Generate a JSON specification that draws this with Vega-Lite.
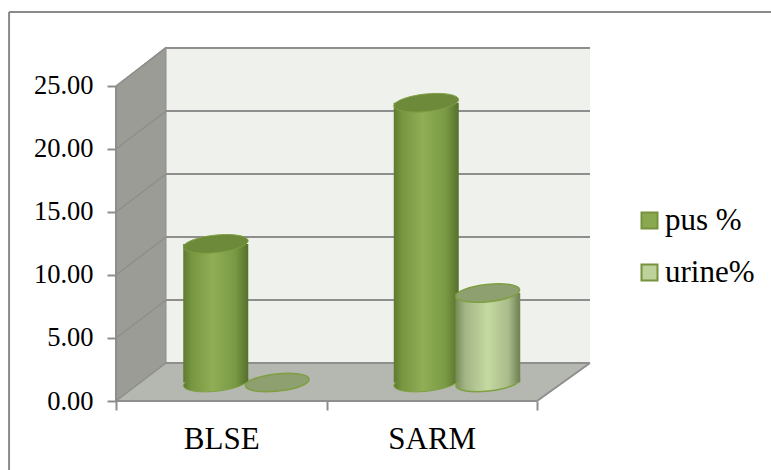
{
"$schema":"https://vega.github.io/schema/vega-lite/v6.json",
"width":474,"height":354,
"padding":{"left":116,"top":47,"right":181,"bottom":69},
"autosize":{"type":"none"},
"background":"white",
"config":{"view":{"stroke":null},"font":"Liberation Serif"},
"data":{"values":[
{"cat":"BLSE","series":"pus %","value":11.0},
{"cat":"BLSE","series":"urine%","value":0},
{"cat":"SARM","series":"pus %","value":22.2},
{"cat":"SARM","series":"urine%","value":7.1}
]},
"resolve":{"scale":{"x":"independent"},"axis":{"x":"independent","y":"independent"},"legend":{"color":"independent"}},
"layer":[
{"data":{"values":[{"side":"frame"}]},"mark":{"type":"rule","stroke":"#8a8a8a","strokeWidth":2},
 "encoding":{"x":{"datum":-0.508,"type":"quantitative","scale":{"domain":[0,2.2518]},"axis":null},"x2":{"datum":3.12},"y":{"datum":30.87,"type":"quantitative","scale":{"domain":[0,28.095]},"axis":null}}},
{"data":{"values":[{"side":"frame"}]},"mark":{"type":"rule","stroke":"#8a8a8a","strokeWidth":2},
 "encoding":{"x":{"datum":-0.508,"type":"quantitative","scale":{"domain":[0,2.2518]},"axis":null},"y":{"datum":30.87,"type":"quantitative","scale":{"domain":[0,28.095]},"axis":null},"y2":{"datum":-5.5}}},
{"data":{"values":[{"part":"back"}]},"mark":{"type":"rect","fill":"#eff2ec"},
 "encoding":{"x":{"datum":0.2375,"type":"quantitative","scale":{"domain":[0,2.2518]},"axis":null},"x2":{"datum":2.2518},"y":{"datum":3.016,"type":"quantitative","scale":{"domain":[0,28.095]},"axis":null},"y2":{"datum":28.095}}},
{"data":{"values":[{"x":0,"top":25,"bottom":0},{"x":0.2375,"top":28.095,"bottom":3.016}]},"mark":{"type":"area","fill":"#9a9c95","stroke":"#8e8e8e","strokeWidth":1},
 "encoding":{"x":{"field":"x","type":"quantitative","scale":{"domain":[0,2.2518]},"axis":null},"y":{"field":"top","type":"quantitative","scale":{"domain":[0,28.095]},"axis":null},"y2":{"field":"bottom"}}},
{"data":{"values":[{"x":0,"top":0,"bottom":0},{"x":0.2375,"top":3.016,"bottom":0},{"x":2,"top":3.016,"bottom":0},{"x":2.2518,"top":3.016,"bottom":3.016}]},"mark":{"type":"area","fill":"#b5b8b1"},
 "encoding":{"x":{"field":"x","type":"quantitative","scale":{"domain":[0,2.2518]},"axis":null},"y":{"field":"top","type":"quantitative","scale":{"domain":[0,28.095]},"axis":null},"y2":{"field":"bottom"}}},
{"data":{"values":[{"tick":0},{"tick":5},{"tick":10},{"tick":15},{"tick":20},{"tick":25}]},"mark":{"type":"rule","stroke":"#8e8e8e","strokeWidth":2,"yOffset":-38},
 "encoding":{"x":{"datum":0.2375,"type":"quantitative","scale":{"domain":[0,2.2518]},"axis":null},"x2":{"datum":2.2518},"y":{"field":"tick","type":"quantitative","scale":{"domain":[0,28.095]},"axis":null}}},
{"data":{"values":[{"tick":0},{"tick":5},{"tick":10},{"tick":15},{"tick":20},{"tick":25}]},"mark":{"type":"rule","stroke":"#8e8e8e","strokeWidth":1.5,"y2Offset":-38},
 "encoding":{"x":{"datum":0,"type":"quantitative","scale":{"domain":[0,2.2518]},"axis":null},"x2":{"datum":0.2375},"y":{"field":"tick","type":"quantitative","scale":{"domain":[0,28.095]},"axis":null},"y2":{"field":"tick"}}},
{"data":{"values":[{"tick":0}]},"mark":{"type":"rule","stroke":"#8e8e8e","strokeWidth":2,"y2Offset":-38},
 "encoding":{"x":{"datum":2,"type":"quantitative","scale":{"domain":[0,2.2518]},"axis":null},"x2":{"datum":2.2518},"y":{"field":"tick","type":"quantitative","scale":{"domain":[0,28.095]},"axis":null},"y2":{"field":"tick"}}},
{"data":{"values":[{"tick":0}]},"mark":{"type":"rule","stroke":"#8e8e8e","strokeWidth":2},
 "encoding":{"x":{"datum":0,"type":"quantitative","scale":{"domain":[0,2.2518]},"axis":null},"x2":{"datum":2},"y":{"field":"tick","type":"quantitative","scale":{"domain":[0,28.095]},"axis":null}}},
{"data":{"values":[{"tick":0}]},"mark":{"type":"rule","stroke":"#8e8e8e","strokeWidth":2},
 "encoding":{"x":{"datum":0,"type":"quantitative","scale":{"domain":[0,2.2518]},"axis":null},"y":{"datum":0,"type":"quantitative","scale":{"domain":[0,28.095]},"axis":null},"y2":{"datum":25}}},

{"transform":[{"filter":"datum.series==='pus %' && datum.value>0"}],
 "mark":{"type":"point","filled":true,"opacity":1,"size":4225,"xOffset":-5.5,"yOffset":-18.5,"shape":"M-0.995,0.105 A1,0.27 -6 1 1 0.995,-0.105 A1,0.27 -6 1 1 -0.995,0.105 Z","fill":{"x1":0,"x2":1,"y1":0,"y2":0,"gradient":"linear","stops":[{"offset":0,"color":"#5d7a30"},{"offset":0.12,"color":"#76953f"},{"offset":0.45,"color":"#8fae55"},{"offset":0.8,"color":"#7a9944"},{"offset":1,"color":"#55702b"}]},"stroke":"#7f9f42","strokeWidth":1},
 "encoding":{"x":{"field":"cat","type":"nominal","scale":{"type":"band","domain":["BLSE","SARM"],"range":[0,421],"paddingInner":0,"paddingOuter":0},"axis":null},"y":{"datum":0,"type":"quantitative","scale":{"domain":[0,28.095]},"axis":null}}},
{"transform":[{"filter":"datum.series==='pus %' && datum.value>0"}],
 "mark":{"type":"bar","width":65,"xOffset":-5.5,"yOffset":-18.5,"y2Offset":-18.5,"fill":{"x1":0,"x2":1,"y1":0,"y2":0,"gradient":"linear","stops":[{"offset":0,"color":"#5d7a30"},{"offset":0.12,"color":"#76953f"},{"offset":0.45,"color":"#8fae55"},{"offset":0.8,"color":"#7a9944"},{"offset":1,"color":"#55702b"}]}},
 "encoding":{"x":{"field":"cat","type":"nominal","scale":{"type":"band","domain":["BLSE","SARM"],"range":[0,421],"paddingInner":0,"paddingOuter":0},"axis":{"title":null,"domain":false,"tickBand":"extent","tickColor":"#8e8e8e","tickWidth":2,"tickSize":9,"labelAngle":0,"labelFont":"Liberation Serif","labelFontSize":31,"labelColor":"#000000","labelPadding":14,"labelBaseline":"top"}},"y":{"field":"value","type":"quantitative","scale":{"domain":[0,28.095]},"axis":{"title":null,"values":[0,5,10,15,20,25],"format":".2f","domain":false,"grid":false,"tickColor":"#8e8e8e","tickWidth":2,"tickSize":9,"labelFont":"Liberation Serif","labelFontSize":26.5,"labelColor":"#000000","labelPadding":14}},"y2":{"datum":0}}},
{"transform":[{"filter":"datum.series==='pus %'"}],
 "mark":{"type":"point","filled":true,"opacity":1,"size":4225,"xOffset":-5.5,"yOffset":-18.5,"shape":"M-0.995,0.105 A1,0.27 -6 1 1 0.995,-0.105 A1,0.27 -6 1 1 -0.995,0.105 Z","fill":"#6d8a3a","stroke":"#7f9f42","strokeWidth":1},
 "encoding":{"x":{"field":"cat","type":"nominal","scale":{"type":"band","domain":["BLSE","SARM"],"range":[0,421],"paddingInner":0,"paddingOuter":0},"axis":null},"y":{"field":"value","type":"quantitative","scale":{"domain":[0,28.095]},"axis":null}}},

{"transform":[{"filter":"datum.series==='urine%' && datum.value>0"}],
 "mark":{"type":"point","filled":true,"opacity":1,"size":4096,"xOffset":56,"yOffset":-18.5,"shape":"M-0.995,0.105 A1,0.27 -6 1 1 0.995,-0.105 A1,0.27 -6 1 1 -0.995,0.105 Z","fill":{"x1":0,"x2":1,"y1":0,"y2":0,"gradient":"linear","stops":[{"offset":0,"color":"#7f9160"},{"offset":0.15,"color":"#a3b585"},{"offset":0.5,"color":"#c5d9a2"},{"offset":0.82,"color":"#a9bb8a"},{"offset":1,"color":"#77875a"}]},"stroke":"#7f9f42","strokeWidth":1.5},
 "encoding":{"x":{"field":"cat","type":"nominal","scale":{"type":"band","domain":["BLSE","SARM"],"range":[0,421],"paddingInner":0,"paddingOuter":0},"axis":null},"y":{"datum":0,"type":"quantitative","scale":{"domain":[0,28.095]},"axis":null}}},
{"transform":[{"filter":"datum.series==='urine%' && datum.value>0"}],
 "mark":{"type":"bar","width":65,"xOffset":56,"yOffset":-18.5,"y2Offset":-18.5,"fill":{"x1":0,"x2":1,"y1":0,"y2":0,"gradient":"linear","stops":[{"offset":0,"color":"#6f8a45"},{"offset":0.03,"color":"#7f9160"},{"offset":0.15,"color":"#a3b585"},{"offset":0.5,"color":"#c5d9a2"},{"offset":0.82,"color":"#a9bb8a"},{"offset":0.97,"color":"#77875a"},{"offset":1,"color":"#6f8a45"}]}},
 "encoding":{"x":{"field":"cat","type":"nominal","scale":{"type":"band","domain":["BLSE","SARM"],"range":[0,421],"paddingInner":0,"paddingOuter":0},"axis":null},"y":{"field":"value","type":"quantitative","scale":{"domain":[0,28.095]},"axis":null},"y2":{"datum":0}}},
{"transform":[{"filter":"datum.series==='urine%'"}],
 "mark":{"type":"point","filled":true,"opacity":1,"size":4096,"xOffset":56,"yOffset":-18.5,"shape":"M-0.995,0.105 A1,0.27 -6 1 1 0.995,-0.105 A1,0.27 -6 1 1 -0.995,0.105 Z","fill":"#8e9f70","stroke":"#7f9f42","strokeWidth":1.5},
 "encoding":{"x":{"field":"cat","type":"nominal","scale":{"type":"band","domain":["BLSE","SARM"],"range":[0,421],"paddingInner":0,"paddingOuter":0},"axis":null},"y":{"field":"value","type":"quantitative","scale":{"domain":[0,28.095]},"axis":null}}},

{"mark":{"type":"point","filled":true,"opacity":0,"size":1},
 "encoding":{"x":{"field":"cat","type":"nominal","scale":{"type":"band","domain":["BLSE","SARM"],"range":[0,421],"paddingInner":0,"paddingOuter":0},"axis":null},"y":{"field":"value","type":"quantitative","scale":{"domain":[0,28.095]},"axis":null},
 "color":{"field":"series","type":"nominal","scale":{"domain":["pus %","urine%"],"range":["#8aa850","#bdd29a"]},"legend":{"title":null,"orient":"none","legendX":518,"legendY":158,"symbolType":"square","symbolSize":256,"symbolOpacity":1,"symbolStrokeColor":"#76923c","symbolStrokeWidth":2,"labelFont":"Liberation Serif","labelFontSize":31,"labelColor":"#000000","labelOffset":0,"rowPadding":20}}}}
]
}
